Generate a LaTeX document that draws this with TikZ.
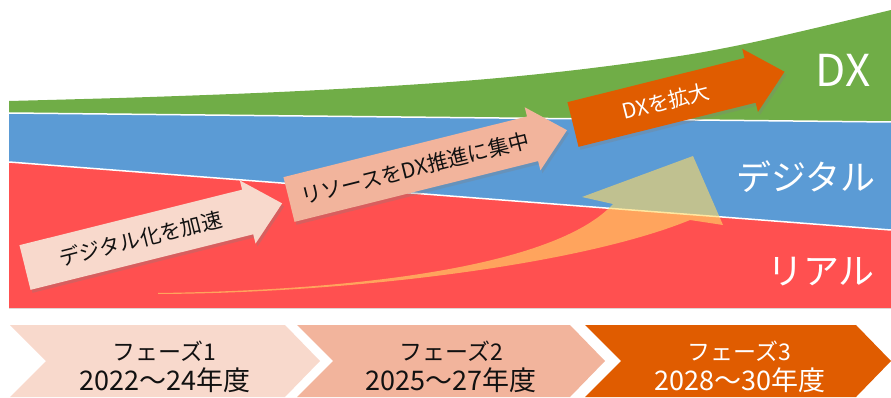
\documentclass[tikz,border=0pt]{standalone}
\usepackage{fontspec}
\setmainfont{Noto Sans CJK JP}
\usetikzlibrary{shadows}
\definecolor{bgreen}{HTML}{70AD47}
\definecolor{bblue}{HTML}{5B9BD5}
\definecolor{bred}{HTML}{FF5050}
\definecolor{peach}{HTML}{F8D9CC}
\definecolor{salmon}{HTML}{F2B49C}
\definecolor{dorange}{HTML}{E05C00}
\definecolor{curvefill}{HTML}{FFD966}
\definecolor{inkdark}{HTML}{111111}
\newcommand{\blockarr}[4]{%
  \begin{scope}[shift={#1}, rotate=14]
    \fill[#3, arrshadow] (0,-23) -- ({#2-35.5},-23) -- ({#2-35.5},-32.5) -- (#2,0)
      -- ({#2-35.5},32.5) -- ({#2-35.5},23) -- (0,23) -- cycle;
    #4
  \end{scope}}
\newcommand{\chevronshape}[3]{%
  \fill[#3] (#1,325) -- (#2,325) -- ({#2+35},361) -- (#2,397) -- (#1,397) -- ({#1+36},361) -- cycle;}
\begin{document}
\begin{tikzpicture}[x=1pt,y=-1pt,
  arrshadow/.style={drop shadow={opacity=0.3,shadow xshift=2pt,shadow yshift=-3pt}},
  arrowtext/.style={font=\fontsize{21}{21}\selectfont, rotate=14, inner sep=0pt},
  bandlabel/.style={text=white, inner sep=0pt},
  chevtop/.style={font=\fontsize{23}{23}\selectfont, inner sep=0pt},
  chevbot/.style={font=\fontsize{27}{27}\selectfont, inner sep=0pt}
]
\useasboundingbox (0,0) rectangle (891,398);
% bands
\fill[bgreen] plot[smooth, tension=0.6] coordinates {(9,101) (150,97) (300,91) (450,82) (567,71) (673,57) (740,45) (807,30) (891,10)} -- (891,308) -- (9,308) -- cycle;
\fill[bblue] (9,113) -- (891,122) -- (891,308) -- (9,308) -- cycle;
\fill[bred] (9,162) -- (891,230) -- (891,308) -- (9,308) -- cycle;
\draw[white, line width=1.5] (9,113) -- (891,122);
\draw[white, line width=1.5] (9,162) -- (891,230);
% curved translucent arrow
\fill[curvefill, fill opacity=0.62] (158,293) .. controls (380,290) and (560,262) .. (613,204)
  -- (582,197) -- (693,156) -- (723,225) -- (690,220)
  .. controls (580,265) and (350,293) .. (158,294) -- cycle;
% block arrows
\blockarr{(25,267.5)}{265}{peach}{\node[arrowtext, text=inkdark] (a1) at (119,0) {デジタル化を加速};}
\blockarr{(289,199.5)}{286.5}{salmon}{\node[arrowtext, text=inkdark] (a2) at (130,0) {リソースをDX推進に集中};}
\blockarr{(573,124.5)}{218}{dorange}{\node[arrowtext, text=white] (a3) at (96,0) {DXを拡大};}
% band labels
\node[bandlabel, font=\fontsize{44}{44}\selectfont] (ldx) at (843,70) {DX};
\node[bandlabel, font=\fontsize{35}{35}\selectfont] (ldig) at (806,177) {デジタル};
\node[bandlabel, font=\fontsize{36}{36}\selectfont] (lreal) at (821,272) {リアル};
% phase chevrons
\chevronshape{10}{285}{peach}
\chevronshape{297}{570}{salmon}
\chevronshape{585}{856}{dorange}
\node[chevtop, text=inkdark] (p1a) at (164,351) {フェーズ1};
\node[chevbot, text=inkdark] (p1b) at (165,380) {2022～24年度};
\node[chevtop, text=inkdark] (p2a) at (451,351) {フェーズ2};
\node[chevbot, text=inkdark] (p2b) at (451,380) {2025～27年度};
\node[chevtop, text=white] (p3a) at (739,351) {フェーズ3};
\node[chevbot, text=white] (p3b) at (740,380) {2028～30年度};
\end{tikzpicture}
\end{document}
